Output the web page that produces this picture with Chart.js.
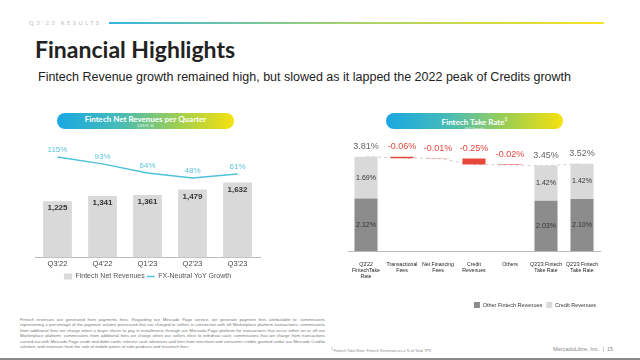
<!DOCTYPE html>
<html>
<head>
<meta charset="utf-8">
<script src="https://cdn.jsdelivr.net/npm/chart.js@4.4.0/dist/chart.umd.min.js"></script>
<style>
  html, body { margin: 0; padding: 0; }
  body { width: 640px; height: 360px; position: relative; overflow: hidden; background: #fff; font-family: 'Liberation Sans', Arial, sans-serif; }
  .abs { position: absolute; white-space: nowrap; }
  #kicker { left: 29px; top: 19px; font: 700 6px Lato; letter-spacing: 2.3px; color: #cfcfcf; }
  #rule { left: 109px; top: 22px; width: 495px; height: 1.5px; background: linear-gradient(90deg, #35b4e0, #a9d26b, #f6e223); }
  #title { left: 35px; top: 35px; font: 700 23px Lato; color: #222; }
  #subtitle { left: 38px; top: 70px; font: 12.5px 'Liberation Sans'; color: #222; }
  .pill { height: 16px; border-radius: 8px; color: #fff; text-align: center;
          background: linear-gradient(90deg, #1aa8e2 0%, #46bbb8 35%, #a3cf4c 70%, #f6e10e 100%); }
  .pill b { display: block; font: 700 8px Lato; padding-top: 2px; line-height: 9px; }
  .pill span { display: block; font: 3.5px Lato; line-height: 4px; opacity: .85; }
  #pillL { left: 57px; top: 113px; width: 177px; }
  #pillR { left: 386px; top: 113px; width: 177px; }
  canvas { position: absolute; }
  #leftChart { left: 20px; top: 130px; }
  #rightChart { left: 330px; top: 130px; }
  #para { left: 20px; top: 317px; width: 305px; white-space: normal; font: 4.3px 'Liberation Sans'; line-height: 5.4px; color: #777; text-align: justify; }
  #foot { left: 331px; top: 347px; font: 3.8px 'Liberation Sans'; color: #888; }
  #page { left: 553px; top: 346px; font: 5.6px 'Liberation Sans'; color: #888; }
  #bottomBar { left: 0; top: 358px; width: 640px; height: 2px; background: #8a8a8a; }
</style>
</head>
<body>
<div id="kicker" class="abs">Q3'23 RESULTS</div>
<div id="rule" class="abs"></div>
<div id="title" class="abs">Financial Highlights</div>
<div id="subtitle" class="abs">Fintech Revenue growth remained high, but slowed as it lapped the 2022 peak of Credits growth</div>

<div id="pillL" class="abs pill"><b>Fintech Net Revenues per Quarter</b><span>(US$ M, %)</span></div>
<div id="pillR" class="abs pill"><b>Fintech Take Rate<sup style="font-size:5px">1</sup></b><span>(YoY Growth)</span></div>

<canvas id="leftChart" width="260" height="160"></canvas>
<canvas id="rightChart" width="290" height="188"></canvas>

<div id="para" class="abs">Fintech revenues are generated from payments fees. Regarding our Mercado Pago service, we generate payment fees attributable to: commissions representing a percentage of the payment volume processed that are charged to sellers in connection with off Marketplace platform transactions; commissions from additional fees we charge when a buyer elects to pay in installments through our Mercado Pago platform for transactions that occur either on or off our Marketplace platform; commissions from additional fees we charge when our sellers elect to withdraw cash; commissions that we charge from transactions carried out with Mercado Pago credit and debit cards; interest cash advances and fees from merchant and consumer credits granted under our Mercado Credito solution; and revenues from the sale of mobile points of sale products and insurtech fees.</div>
<div id="foot" class="abs"><sup>1</sup> Fintech Take Rate: Fintech Revenues as a % of Total TPV</div>
<div id="page" class="abs">MercadoLibre, Inc.&nbsp; |&nbsp; 15</div>
<div id="bottomBar" class="abs"></div>

<script>
// MARK: Data
const quarters = ["Q3'22", "Q4'22", "Q1'23", "Q2'23", "Q3'23"];
const netRevenues = [1225, 1341, 1361, 1479, 1632];
const fxNeutralGrowth = [115, 93, 64, 48, 61];

const takeRateLabels = [
  ["Q3'22", "FintechTake", "Rate"],
  ["Transactional", "Fees"],
  ["Net Financing", "Fees"],
  ["Credit", "Revenues"],
  ["Others"],
  ["Q3'23 Fintech", "Take Rate"],
  ["Q2'23 Fintech", "Take Rate"]
];
const otherFintech = [2.12, null, null, null, null, 2.03, 2.10];
const creditRevenues = [1.69, null, null, null, null, 1.42, 1.42];
const takeRateTotals = [3.81, null, null, null, null, 3.45, 3.52];
const takeRateChanges = [null, -0.06, -0.01, -0.25, -0.02, null, null];

// MARK: Colors
const LIGHT_GRAY = '#d9d9d9';
const DARK_GRAY = '#8c8c8c';
const CYAN = '#4fc1da';
const RED = '#e8473c';

Chart.defaults.font.family = "'Liberation Sans', Arial, sans-serif";
Chart.defaults.animation = false;
Chart.defaults.plugins.tooltip.enabled = false;

// small label plugin, chartjs-plugin-datalabels is not available here
const valueLabels = {
  id: 'valueLabels',
  afterDatasetsDraw(chart) {
    const ctx = chart.ctx;
    chart.data.datasets.forEach((ds, i) => {
      const cfg = ds.valueLabel;
      if (!cfg) return;
      const meta = chart.getDatasetMeta(i);
      meta.data.forEach((el, j) => {
        const text = cfg.text(j);
        if (text == null) return;
        const top = el.base !== undefined ? Math.min(el.y, el.base) : el.y;
        let y;
        if (cfg.pos === 'insideTop') y = top + cfg.offset;
        else if (cfg.pos === 'center') y = (el.y + el.base) / 2;
        else y = top - cfg.offset;
        ctx.save();
        ctx.font = cfg.font;
        ctx.fillStyle = cfg.color;
        ctx.textAlign = 'center';
        ctx.textBaseline = 'middle';
        ctx.fillText(text, el.x, y);
        ctx.restore();
      });
    });
  }
};

// MARK: Left chart
new Chart(document.getElementById('leftChart'), {
  data: {
    labels: quarters,
    datasets: [
      {
        type: 'bar',
        label: 'Fintech Net Revenues',
        data: netRevenues,
        backgroundColor: LIGHT_GRAY,
        pointStyle: 'rect',
        barPercentage: 0.64,
        categoryPercentage: 1,
        yAxisID: 'y',
        order: 2,
        valueLabel: {
          pos: 'insideTop', offset: 7, font: 'bold 8px Liberation Sans', color: '#333',
          text: j => netRevenues[j].toLocaleString('en-US')
        }
      },
      {
        type: 'line',
        label: 'FX-Neutral YoY Growth',
        data: fxNeutralGrowth,
        borderColor: CYAN,
        backgroundColor: CYAN,
        borderWidth: 1.5,
        pointRadius: 0,
        pointStyle: 'line',
        tension: 0,
        yAxisID: 'y1',
        order: 1,
        valueLabel: {
          pos: 'above', offset: 7, font: '8px Liberation Sans', color: '#5cc4dc',
          text: j => fxNeutralGrowth[j] + '%'
        }
      }
    ]
  },
  options: {
    responsive: false,
    devicePixelRatio: 1,
    layout: { padding: { left: 15, right: 20, top: 10, bottom: 0 } },
    plugins: {
      legend: {
        position: 'bottom',
        labels: {
          usePointStyle: true,
          pointStyleWidth: 8,
          boxHeight: 6,
          padding: 2,
          font: { size: 7 },
          color: '#555',
          sort: (a, b) => a.datasetIndex - b.datasetIndex
        }
      }
    },
    scales: {
      x: {
        grid: { display: false, drawTicks: false },
        border: { color: '#bbb' },
        ticks: { color: '#444', font: { size: 7.5, lineHeight: 1 }, padding: 3 }
      },
      y: { display: false, min: 0, max: 2560 },
      y1: { display: false, min: -205, max: 169 }
    }
  },
  plugins: [valueLabels]
});

// MARK: Right chart (waterfall)
const changeBars = [];
const connector = [];
let level = takeRateTotals[0];
takeRateLabels.forEach((_, i) => {
  if (takeRateChanges[i] != null) {
    changeBars.push([level + takeRateChanges[i], level]);
    level += takeRateChanges[i];
    connector.push(level);
  } else {
    changeBars.push(null);
    connector.push(takeRateTotals[i]);
  }
});

new Chart(document.getElementById('rightChart'), {
  data: {
    labels: takeRateLabels,
    datasets: [
      {
        type: 'bar',
        label: 'Other Fintech Revenues',
        data: otherFintech.map(v => v == null ? null : [0, v]),
        backgroundColor: DARK_GRAY,
        grouped: false,
        barPercentage: 0.64,
        categoryPercentage: 1,
        order: 1,
        valueLabel: {
          pos: 'center', font: '7px Liberation Sans', color: '#333',
          text: j => otherFintech[j] == null ? null : otherFintech[j].toFixed(2) + '%'
        }
      },
      {
        type: 'bar',
        label: 'Credit Revenues',
        data: otherFintech.map((v, i) => v == null ? null : [v, v + creditRevenues[i]]),
        backgroundColor: LIGHT_GRAY,
        grouped: false,
        barPercentage: 0.64,
        categoryPercentage: 1,
        order: 1,
        valueLabel: {
          pos: 'center', font: '7px Liberation Sans', color: '#333',
          text: j => creditRevenues[j] == null ? null : creditRevenues[j].toFixed(2) + '%'
        }
      },
      {
        type: 'bar',
        label: 'totals',
        data: takeRateTotals.map(v => v == null ? null : [v, v]),
        backgroundColor: 'rgba(0,0,0,0)',
        grouped: false,
        barPercentage: 0.64,
        categoryPercentage: 1,
        order: 1,
        valueLabel: {
          pos: 'above', offset: 10, font: '9px Liberation Sans', color: '#666',
          text: j => takeRateTotals[j] == null ? null : takeRateTotals[j].toFixed(2) + '%'
        }
      },
      {
        type: 'bar',
        label: 'changes',
        data: changeBars,
        backgroundColor: RED,
        grouped: false,
        barPercentage: 0.64,
        categoryPercentage: 1,
        order: 1,
        valueLabel: {
          pos: 'above', offset: 10, font: '9px Liberation Sans', color: RED,
          text: j => takeRateChanges[j] == null ? null : takeRateChanges[j].toFixed(2) + '%'
        }
      },
      {
        type: 'line',
        label: 'connector',
        data: connector,
        borderColor: '#d0d0d0',
        borderWidth: 1,
        borderDash: [3, 3],
        pointRadius: 0,
        tension: 0,
        order: 3
      }
    ]
  },
  options: {
    responsive: false,
    devicePixelRatio: 1,
    layout: { padding: { left: 18, right: 20, top: 10, bottom: 0 } },
    plugins: {
      legend: {
        position: 'bottom',
        align: 'end',
        labels: {
          boxWidth: 6,
          boxHeight: 6,
          padding: 4,
          font: { size: 5.5 },
          color: '#333',
          filter: item => item.text === 'Other Fintech Revenues' || item.text === 'Credit Revenues'
        }
      }
    },
    scales: {
      x: {
        grid: { display: false },
        border: { color: '#bbb' },
        ticks: { color: '#222', font: { size: 5.2 }, padding: 2, maxRotation: 0, autoSkip: false },
        // extra room under the category labels so the legend sits lower
        afterFit: scale => { scale.height += 16; }
      },
      y: { display: false, min: 0, max: 4.48 }
    }
  },
  plugins: [valueLabels]
});
</script>
</body>
</html>
